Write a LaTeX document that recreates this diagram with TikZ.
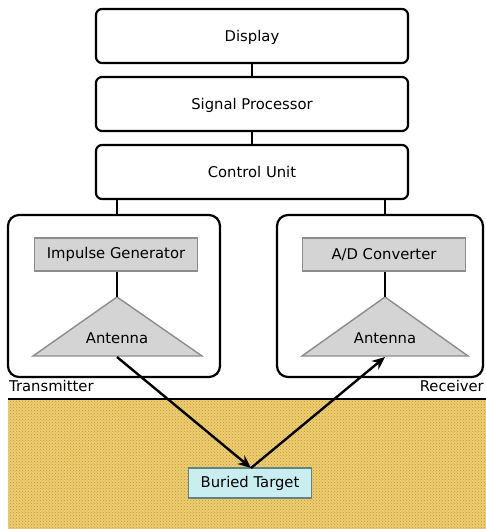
\documentclass[tikz,border=0pt]{standalone}
\usepackage{fontspec}
\setmainfont{DejaVu Sans}
\usetikzlibrary{arrows.meta,patterns}
\definecolor{gold}{RGB}{200,150,20}
\definecolor{goldbg}{RGB}{236,206,120}
\definecolor{boxgray}{RGB}{212,212,212}
\definecolor{boxedge}{RGB}{140,140,140}
\definecolor{cyanfill}{RGB}{200,238,242}
\definecolor{cyanedge}{RGB}{100,130,130}
\tikzset{
  txt/.style={font=\fontsize{14.8}{17}\selectfont},
  topbox/.style={draw=black, line width=2.2pt, rounded corners=6pt, fill=white,
    minimum width=312pt, minimum height=54pt, inner sep=0pt, txt},
  grpbox/.style={draw=black, line width=2.2pt, rounded corners=11pt},
  graybox/.style={draw=boxedge, line width=1.8pt, fill=boxgray,
    minimum width=163pt, minimum height=33pt, inner sep=0pt, txt},
  tri/.style={draw=boxedge, line width=1.4pt, fill=boxgray, line join=miter},
  lbl/.style={txt, inner sep=0pt},
  conn/.style={line width=2.2pt},
  arr/.style={line width=2.4pt, -{Stealth[length=13pt,width=11pt]}},
}
\begin{document}
\begin{tikzpicture}[x=1pt,y=-1pt]
\useasboundingbox (0,0) rectangle (485,529);
% ground
\fill[goldbg] (8,399) rectangle (490,535);
\fill[pattern=crosshatch dots, pattern color=gold] (8,399) rectangle (490,535);
\draw[line width=2.2pt] (8,399) -- (490,399);
% top stack
\node[topbox, text depth=-5pt] (display) at (252,36) {Display};
\node[topbox, text depth=-5pt] (sp) at (252,104) {Signal Processor};
\node[topbox, text depth=-5pt] (cu) at (252,172) {Control Unit};
\draw[conn] (display.south) -- (sp.north);
\draw[conn] (sp.south) -- (cu.north);
% group boxes
\draw[grpbox] (8,215) rectangle (220,377);
\draw[grpbox] (277,215) rectangle (483,377);
\coordinate (txtop) at (117,215);
\coordinate (rxtop) at (385,215);
\draw[conn] (cu.south -| txtop) -- (txtop);
\draw[conn] (cu.south -| rxtop) -- (rxtop);
% inner boxes
\node[graybox] (ig) at (116,254.5) {Impulse Generator};
\node[graybox] (adc) at (384,254.5) {A/D Converter};
% antennas
\coordinate (apex1) at (117,297);
\coordinate (apex2) at (385,297);
\draw[tri] (apex1) -- (202,356) -- (33,356) -- cycle;
\draw[tri] (apex2) -- (468,356) -- (302,356) -- cycle;
\node[lbl] (ant1) at (117,338) {Antenna};
\node[lbl] (ant2) at (385,338) {Antenna};
\coordinate (base1) at (117,357);
\coordinate (base2) at (385,357);
\draw[conn] (ig.south -| apex1) -- (apex1);
\draw[conn] (adc.south -| apex2) -- (apex2);
% labels
\node[lbl, anchor=west] (txl) at (9,386) {Transmitter};
\node[lbl, anchor=east] (rxl) at (484,386) {Receiver};
% target
\node[draw=cyanedge, line width=1.8pt, fill=cyanfill, minimum width=123pt, minimum height=30pt,
  inner sep=0pt, txt] (target) at (250,483) {Buried Target};
\coordinate (hit) at (251,468);
\draw[arr] (base1) -- (hit);
\draw[arr] (hit) -- (base2);
\end{tikzpicture}
\end{document}
